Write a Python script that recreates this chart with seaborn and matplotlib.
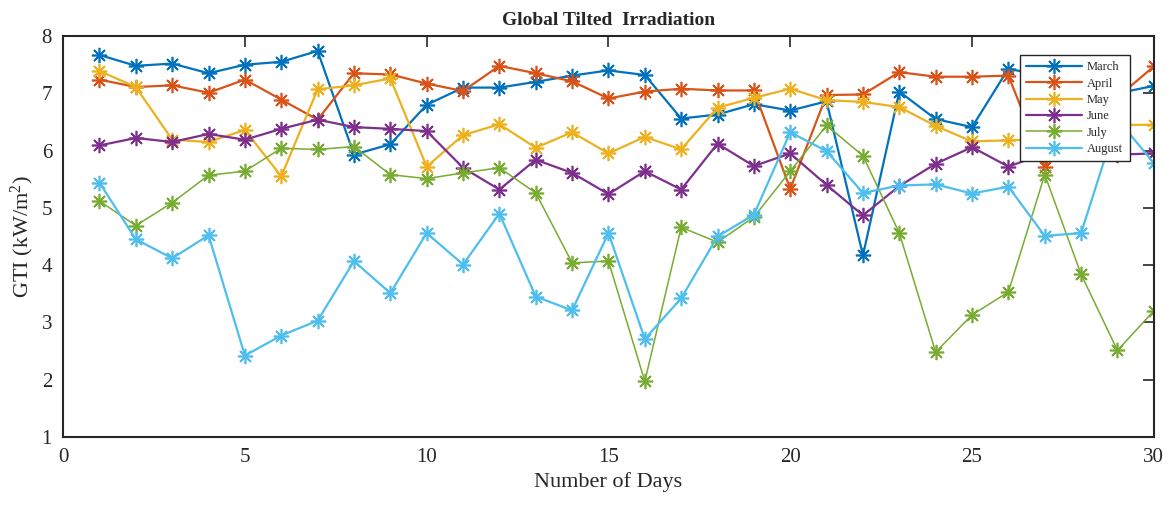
"""Global tilted irradiation per day, March to August."""

import matplotlib

matplotlib.use("Agg")
import matplotlib.pyplot as plt
import pandas as pd
import seaborn as sns

sns.set_theme(style="white")
plt.rcParams["font.family"] = ["Liberation Serif", "DejaVu Serif"]
plt.rcParams["mathtext.fontset"] = "custom"
plt.rcParams["mathtext.rm"] = "Liberation Serif"
plt.rcParams["mathtext.it"] = "Liberation Serif:italic"

days = list(range(1, 31))

march = [7.67, 7.48, 7.52, 7.35, 7.50, 7.55, 7.74, 5.93, 6.11, 6.80,
         7.10, 7.10, 7.20, 7.31, 7.40, 7.32, 6.56, 6.63, 6.81, 6.70,
         6.86, 4.17, 7.03, 6.55, 6.41, 7.43, 7.30, 7.15, 7.00, 7.13]
april = [7.24, 7.11, 7.14, 7.01, 7.24, 6.89, 6.54, 7.35, 7.33, 7.17,
         7.04, 7.48, 7.35, 7.21, 6.91, 7.03, 7.08, 7.05, 7.05, 5.33,
         6.97, 6.98, 7.37, 7.29, 7.29, 7.31, 5.71, 6.95, 6.93, 7.47]
may = [7.39, 7.11, 6.19, 6.15, 6.36, 5.55, 7.07, 7.14, 7.26, 5.72,
       6.27, 6.46, 6.05, 6.32, 5.95, 6.24, 6.02, 6.75, 6.92, 7.08,
       6.88, 6.85, 6.76, 6.43, 6.16, 6.18, 6.20, 6.35, 6.45, 6.45]
june = [6.09, 6.22, 6.15, 6.29, 6.19, 6.38, 6.54, 6.41, 6.38, 6.34,
        5.70, 5.32, 5.84, 5.61, 5.24, 5.64, 5.32, 6.12, 5.73, 5.95,
        5.40, 4.87, 5.38, 5.77, 6.06, 5.72, 5.95, 5.95, 5.93, 5.95]
july = [5.12, 4.69, 5.09, 5.57, 5.64, 6.04, 6.02, 6.07, 5.58, 5.51,
        5.61, 5.70, 5.26, 4.04, 4.07, 1.97, 4.66, 4.40, 4.84, 5.64,
        6.44, 5.91, 4.56, 2.48, 3.13, 3.53, 5.58, 3.84, 2.51, 3.20]
august = [5.44, 4.45, 4.12, 4.52, 2.42, 2.77, 3.03, 4.07, 3.51, 4.56,
          4.01, 4.90, 3.45, 3.21, 4.56, 2.71, 3.42, 4.50, 4.88, 6.32,
          5.99, 5.26, 5.39, 5.41, 5.25, 5.37, 4.51, 4.56, 6.55, 5.78]

months = ["March", "April", "May", "June", "July", "August"]
series = [march, april, may, june, july, august]
colors = ["#0072BD", "#D95319", "#EDB120", "#7E2F8E", "#77AC30", "#4DBEEE"]

df = pd.DataFrame(
    {
        "day": days * len(months),
        "gti": [v for s in series for v in s],
        "month": [m for m in months for _ in days],
    }
)

fig = plt.figure(figsize=(11.69, 5.08), dpi=100)
ax = fig.add_axes([0.054, 0.140, 0.933, 0.789])

asterisk = (8, 2, 0)
for month, color in zip(months, colors):
    sub = df[df["month"] == month]
    lw = 1.1 if month == "July" else 1.6
    sns.lineplot(
        data=sub, x="day", y="gti", ax=ax, color=color, label=month,
        marker=asterisk, markersize=11, markeredgewidth=1.2,
        markeredgecolor=color, linewidth=lw,
    )

ax.set_xlim(0, 30)
ax.set_ylim(1, 8)
ax.set_xticks(range(0, 31, 5))
ax.set_yticks(range(1, 9))
ax.tick_params(direction="in", length=8, width=1.2, top=True, right=True,
               labelsize=15, colors="#262626", pad=8)
for spine in ax.spines.values():
    spine.set_color("#262626")
    spine.set_linewidth(1.5)

ax.set_xlabel("Number of Days", fontsize=16, color="#262626")
ax.set_ylabel("GTI (kW/m$^2$)", fontsize=16, color="#262626")
ax.set_title("Global Tilted  Irradiation", fontsize=14, fontweight="bold", pad=8)

leg = ax.legend(loc="upper left", bbox_to_anchor=(0.877, 0.953), borderaxespad=0,
                fontsize=9, handlelength=4.5, frameon=True, fancybox=False,
                framealpha=1, labelspacing=0.35, borderpad=0.5, handletextpad=0.4)
leg.get_frame().set_edgecolor("#262626")
leg.get_frame().set_facecolor("white")
leg.get_frame().set_linewidth(1.0)
leg.set_zorder(10)

fig.savefig("out.png", dpi=100)
